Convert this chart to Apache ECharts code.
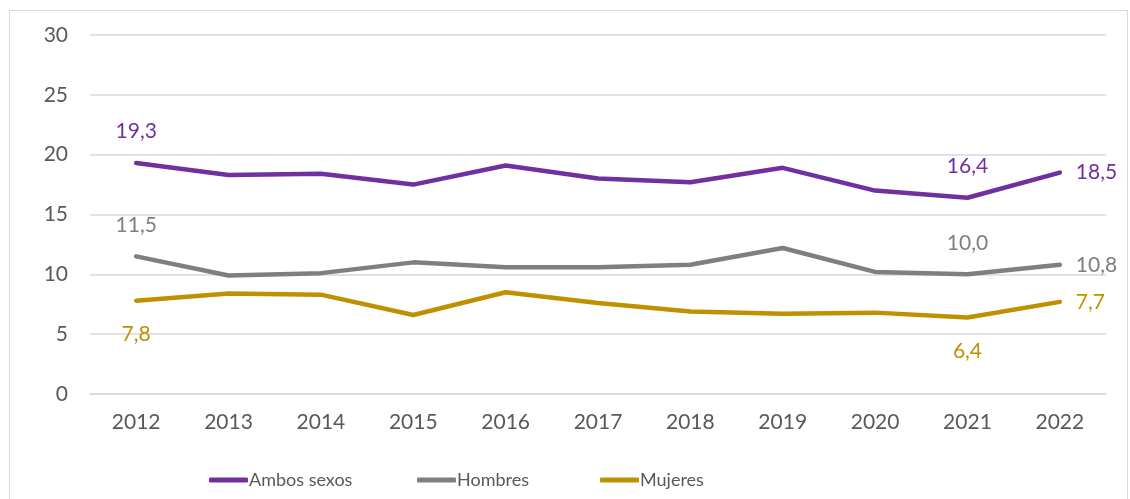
<!DOCTYPE html>
<html><head><meta charset="utf-8">
<script src="https://cdn.jsdelivr.net/npm/echarts@6/dist/echarts.min.js"></script>
<style>html,body{margin:0;padding:0;background:#fff}#c{width:1130px;height:499px}</style>
</head><body><div id="c"></div>
<script>
const years = ['2012','2013','2014','2015','2016','2017','2018','2019','2020','2021','2022'];
const ambos = [19.3,18.3,18.4,17.5,19.1,18.0,17.7,18.9,17.0,16.4,18.5];
const hombres = [11.5,9.9,10.1,11.0,10.6,10.6,10.8,12.2,10.2,10.0,10.8];
const mujeres = [7.8,8.4,8.3,6.6,8.5,7.6,6.9,6.7,6.8,6.4,7.7];
const seriesNames = ['Ambos sexos','Hombres','Mujeres'];
const colors = ['#7030A0','#7F7F7F','#BF9000'];
const FONT = 'Lato, "Open Sans", sans-serif';
const legendLefts = [204, 412, 595];

function fmt(v){ return v.toFixed(1).replace('.', ','); }
function build(vals, color, pos) {
  return vals.map((v, i) => {
    const p = pos[i];
    if (!p) return v;
    return { value: v, label: Object.assign({ show: true, color: color, fontSize: 21, fontFamily: FONT, formatter: fmt(v) }, p) };
  });
}
const chart = echarts.init(document.getElementById('c'));
chart.setOption({
  animation: false,
  graphic: [{ type: 'rect', shape: { x: 9.5, y: 10.5, width: 1118, height: 520 }, style: { fill: 'none', stroke: '#d9d9d9', lineWidth: 1 }, silent: true }],
  grid: { left: 90, right: 24, top: 35, bottom: 105 },
  legend: seriesNames.map((n, i) => ({
    left: legendLefts[i], top: 466, itemWidth: 39, itemHeight: 5, icon: 'roundRect',
    textStyle: { color: '#595959', fontSize: 18, fontFamily: FONT, padding: [0,0,0,-4] },
    data: [n]
  })),
  xAxis: {
    type: 'category', data: years, boundaryGap: true,
    axisLine: { lineStyle: { color: '#d9d9d9', width: 1.5 } },
    axisTick: { show: false },
    axisLabel: { color: '#595959', fontSize: 21, fontFamily: FONT, margin: 18 }
  },
  yAxis: {
    type: 'value', min: 0, max: 30, interval: 5,
    axisLine: { show: false }, axisTick: { show: false },
    axisLabel: { color: '#595959', fontSize: 21, fontFamily: FONT, margin: 22 },
    splitLine: { lineStyle: { color: '#d9d9d9', width: 1.5 } }
  },
  series: [
    { name: seriesNames[0], type: 'line', data: build(ambos, colors[0], {0:{position:'top',distance:21},9:{position:'top',distance:21},10:{position:'right',distance:16,offset:[0,-8]}}),
      color: colors[0], lineStyle: { width: 4.5, cap: 'round' } },
    { name: seriesNames[1], type: 'line', data: build(hombres, colors[1], {0:{position:'top',distance:21},9:{position:'top',distance:21},10:{position:'right',distance:16,offset:[0,-22]}}),
      color: colors[1], lineStyle: { width: 4.5, cap: 'round' } },
    { name: seriesNames[2], type: 'line', data: build(mujeres, colors[2], {0:{position:'bottom',distance:23},9:{position:'bottom',distance:23},10:{position:'right',distance:16}}),
      color: colors[2], lineStyle: { width: 4.5, cap: 'round' } }
  ].map(s => Object.assign(s, { symbol: 'circle', symbolSize: 0.1, showSymbol: true, showAllSymbol: true, labelLayout: { hideOverlap: false } }))
});
</script></body></html>
